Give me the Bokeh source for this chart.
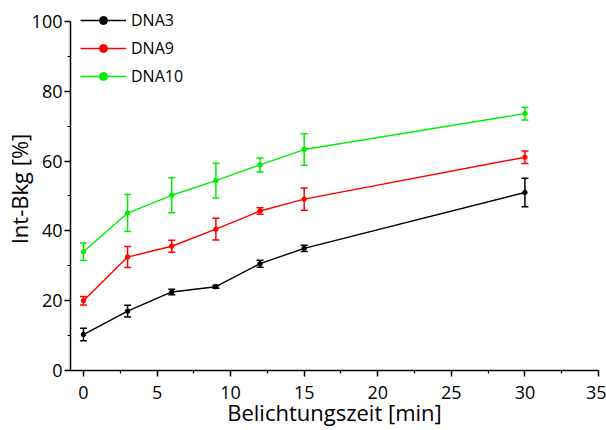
from bokeh.plotting import figure
from bokeh.models import Range1d, ColumnDataSource, Whisker, TeeHead, FixedTicker, Legend, LegendItem
from bokeh.embed import file_html
from bokeh.resources import INLINE

# Data
time_min = [0, 3, 6, 9, 12, 15, 30]
dna3 = [10.3, 17.0, 22.5, 24.0, 30.6, 35.0, 51.0]
dna3_err = [1.8, 1.7, 0.8, 0.4, 1.0, 0.9, 4.1]
dna9 = [20.0, 32.5, 35.6, 40.5, 45.7, 49.1, 61.1]
dna9_err = [1.2, 3.0, 1.7, 3.1, 0.9, 3.2, 1.8]
dna10 = [34.0, 45.1, 50.2, 54.4, 58.9, 63.3, 73.6]
dna10_err = [2.5, 5.3, 5.0, 5.0, 2.0, 4.5, 1.8]

series = [("DNA3", dna3, dna3_err, "#000000"),
          ("DNA9", dna9, dna9_err, "#ff0000"),
          ("DNA10", dna10, dna10_err, "#00ee00")]

x_ticks = [0, 5, 10, 15, 20, 25, 30, 35]
x_minor = [2.5, 7.5, 12.5, 17.5, 22.5, 27.5, 32.5]
y_ticks = [0, 20, 40, 60, 80, 100]
y_minor = [10, 30, 50, 70, 90]

FONT = "Open Sans"

p = figure(width=606, height=430, output_backend="svg", toolbar_location=None,
           x_range=Range1d(-0.88, 35), y_range=Range1d(0, 104),
           min_border_left=70, min_border_right=8, min_border_top=7, min_border_bottom=60)
p.xgrid.visible = False
p.ygrid.visible = False
p.outline_line_color = None
p.background_fill_color = "white"
p.border_fill_color = "white"

for ax, ticks, minor in ((p.xaxis[0], x_ticks, x_minor), (p.yaxis[0], y_ticks, y_minor)):
    ax.ticker = FixedTicker(ticks=ticks, minor_ticks=minor)
    ax.axis_line_color = "black"
    ax.axis_line_width = 1.5
    ax.major_tick_line_color = "black"
    ax.major_tick_line_width = 1.5
    ax.minor_tick_line_color = "black"
    ax.minor_tick_line_width = 1.2
    ax.major_tick_in = 0
    ax.major_tick_out = 6
    ax.minor_tick_in = 0
    ax.minor_tick_out = 3
    ax.major_label_text_font = FONT
    ax.major_label_text_font_size = "18px"
    ax.major_label_text_color = "black"
    ax.axis_label_text_font = FONT
    ax.axis_label_text_font_size = "22px"
    ax.axis_label_text_font_style = "normal"
    ax.axis_label_text_color = "black"

p.yaxis.bounds = (0, 100)
p.xaxis.axis_label = "Belichtungszeit [min]"
p.yaxis.axis_label = "Int-Bkg [%]"
p.xaxis.major_label_standoff = 9
p.xaxis.axis_label_standoff = -5
p.yaxis.major_label_standoff = 2
p.yaxis.axis_label_standoff = -5

items = []
for name, vals, errs, color in series:
    src = ColumnDataSource(dict(x=time_min, y=vals,
                                lo=[v - e for v, e in zip(vals, errs)],
                                hi=[v + e for v, e in zip(vals, errs)]))
    w = Whisker(source=src, base="x", upper="hi", lower="lo",
                line_color=color, line_width=1.5,
                upper_head=TeeHead(size=7, line_color=color, line_width=1.5),
                lower_head=TeeHead(size=7, line_color=color, line_width=1.5))
    p.add_layout(w)
    l = p.line("x", "y", source=src, line_color=color, line_width=1.4)
    s = p.scatter("x", "y", source=src, size=4.5, marker="circle",
                  fill_color=color, line_color=color)
    items.append(LegendItem(label=name, renderers=[l, s]))

legend = Legend(items=items, location=(10, 283))
legend.background_fill_alpha = 0
legend.border_line_color = None
legend.label_text_font = FONT
legend.label_text_font_size = "16px"
legend.label_text_color = "black"
legend.glyph_width = 46
legend.glyph_height = 20
legend.label_height = 20
legend.spacing = 6
legend.padding = 0
legend.margin = 0
legend.label_standoff = 5
p.add_layout(legend)

open("out.html", "w").write(file_html(p, INLINE))
